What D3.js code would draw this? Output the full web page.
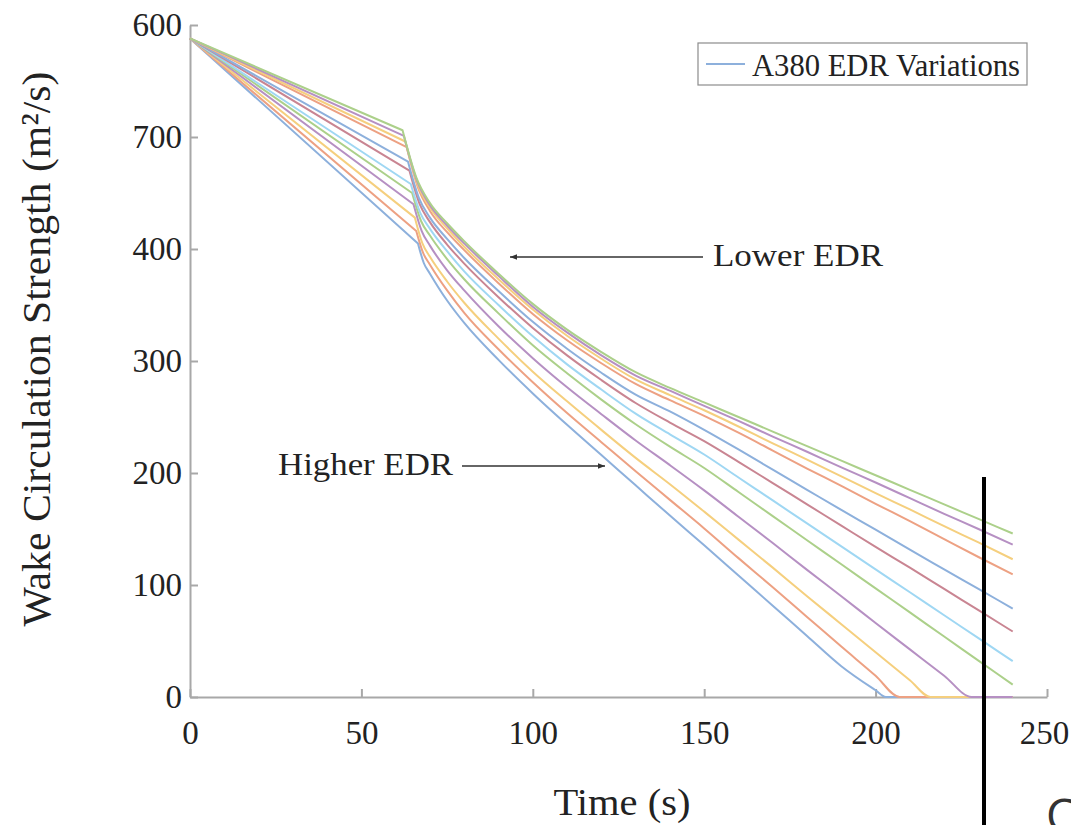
<!DOCTYPE html>
<html>
<head>
<meta charset="utf-8">
<script src="https://cdn.jsdelivr.net/npm/d3@7"></script>
<style>
  body { margin: 0; background: #fff; }
  svg { display: block; }
  .tick text { font-family: "Liberation Serif", serif; font-size: 33px; fill: #222; }
</style>
</head>
<body>
<div class="svg-container"></div>
<script>
// series 1 = highest EDR (bottom) ... series 12 = lowest EDR (top)
var lineColors = ["#8db0dc", "#eda183", "#f5cf7e", "#b690c3", "#acd08a", "#9fd7f3",
                  "#c98592", "#8db0dc", "#eda183", "#f5cf7e", "#b690c3", "#acd08a"];

var startTime = 0;
var startValue = 588;

var kinkTimes  = [66.5, 66, 65.6, 65.2, 64.8, 64.4, 64, 63.6, 63.2, 62.8, 62.4, 62];
var kinkValues = [405, 416, 428, 440, 450, 458, 470, 478, 491, 496, 501, 506];
var bendTimes  = [68.2, 68, 67.8, 67.6, 67.4, 67.2, 67, 66.8, 66.6, 66.4, 66.2, 66];
var bendValues = [387.5, 396.5, 405, 416, 425, 432, 440, 445.5, 454, 457.5, 461, 464];

var gridTimes = [70, 75, 80, 90, 100, 110, 120, 130, 140, 150, 160, 170, 180, 190, 200, 210, 220, 230, 240];
var gridValues = [
  [378, 354, 334, 301, 271, 243, 216, 189, 162, 135.5, 108.5, 81.5, 54.5, 27.5, 6, 0, 0, 0, 0],
  [386, 363, 343, 310.5, 281, 253.5, 227.5, 201.5, 176, 150.5, 124, 98, 71.5, 45, 19, 0, 0, 0, 0],
  [393, 371, 352, 320, 290.5, 264, 238.5, 213.5, 190, 165.5, 140.5, 115.5, 90, 65, 40, 15, 0, 0, 0],
  [403, 381, 363, 331, 302.5, 276.5, 252.5, 229, 207, 184.5, 161, 137.5, 113.5, 90, 66, 42.5, 19, 0, 0],
  [412, 391, 373, 342.5, 314, 289, 265.5, 243.5, 223.5, 204.5, 183, 161.5, 140, 118.5, 97, 75.5, 54, 32.5, 11],
  [418, 398, 380, 350, 322, 297, 274.5, 253, 234.5, 216.5, 196, 175.5, 155, 134.5, 114, 93.5, 73, 52.5, 32],
  [424, 404, 387, 357, 329.5, 305, 283, 262.5, 245, 228.5, 210, 191, 172, 153, 134, 115.5, 96.5, 77.5, 58.5],
  [428, 409, 392, 362.5, 335, 311, 289.5, 270, 255, 238.5, 221, 203, 185, 167, 149.5, 131.5, 114, 96.5, 79],
  [434, 415, 399, 369.5, 342, 318.5, 298, 279.5, 265, 251, 236, 220, 204, 188.5, 172.5, 157, 141, 125, 109.5],
  [437, 418.5, 402, 373, 346, 322.5, 302, 283.5, 269.5, 256, 241.5, 226.5, 212, 197, 182, 167.5, 152.5, 138, 123],
  [439, 421, 405, 376, 348.5, 325.5, 305, 287, 273.5, 260, 246.5, 232.5, 219, 205, 191.5, 177.5, 163.5, 150, 136],
  [441, 423, 407, 378, 351, 328, 308, 290, 276, 263, 250, 237, 224, 211, 198, 185, 172, 159, 146]
];
// time where a series reaches zero (null = stays above zero)
var zeroTimes = [203, 207, 216, 228, null, null, null, null, null, null, null, null];

var xTicks = [0, 50, 100, 150, 200, 250];
var yTicks = [0, 100, 200, 300, 400, 500, 600];
var yTickLabels = ["0", "100", "200", "300", "400", "700", "600"];

var width = 1071;
var height = 825;

var svg = d3.select(".svg-container").append("svg")
  .attr("width", width)
  .attr("height", height);

var x = d3.scaleLinear().domain([0, 250]).range([190, 1047]);
var y = d3.scaleLinear().domain([0, 600]).range([697, 25]);

// axes, MATLAB style ticks pointing inward
svg.append("g")
  .attr("transform", "translate(" + x(0) + ",0)")
  .call(d3.axisLeft(y).tickValues(yTicks)
    .tickFormat(function(d, i) { return yTickLabels[i]; })
    .tickSizeInner(-8).tickSizeOuter(0).tickPadding(8));

svg.append("g")
  .attr("transform", "translate(0," + y(0) + ")")
  .call(d3.axisBottom(x).tickValues(xTicks)
    .tickSizeInner(-8).tickSizeOuter(0).tickPadding(24));

svg.selectAll(".domain, .tick line")
  .attr("stroke", "#a8a8a8")
  .attr("stroke-width", 2);
svg.selectAll(".tick text").attr("font-family", null).attr("font-size", null);
// keep the last x label inside the frame
svg.selectAll(".tick text").filter(function(d) { return d === 250; }).attr("dx", "-3");

// straight decay up to the kink, then a smooth curve
var straight = d3.line()
  .x(function(d) { return x(d[0]); })
  .y(function(d) { return y(d[1]); });
var smooth = d3.line()
  .curve(d3.curveMonotoneX)
  .x(function(d) { return x(d[0]); })
  .y(function(d) { return y(d[1]); });

var series = gridValues.map(function(vals, i) {
  var pts = [[kinkTimes[i], kinkValues[i]], [bendTimes[i], bendValues[i]]];
  gridTimes.forEach(function(t, j) { pts.push([t, vals[j]]); });
  if (zeroTimes[i] != null) pts.push([zeroTimes[i], 0]);
  pts.sort(function(a, b) { return a[0] - b[0]; });
  return pts;
});

svg.append("g")
  .selectAll("path")
  .data(series)
  .enter().append("path")
  .attr("d", function(d) {
    return straight([[startTime, startValue], d[0]]) + smooth(d).replace(/^M/, "L");
  })
  .attr("fill", "none")
  .attr("stroke", function(d, i) { return lineColors[i]; })
  .attr("stroke-width", 2)
  .attr("stroke-linejoin", "round");

// axis titles
svg.append("text")
  .attr("transform", "translate(50,349) rotate(-90)")
  .attr("text-anchor", "middle")
  .attr("textLength", 555)
  .attr("lengthAdjust", "spacingAndGlyphs")
  .style("font-family", "Liberation Serif, serif")
  .style("font-size", "41px")
  .style("fill", "#222")
  .text("Wake Circulation Strength (m²/s)");

svg.append("text")
  .attr("x", 622)
  .attr("y", 815)
  .attr("text-anchor", "middle")
  .attr("textLength", 137)
  .attr("lengthAdjust", "spacingAndGlyphs")
  .style("font-family", "Liberation Serif, serif")
  .style("font-size", "38px")
  .style("fill", "#222")
  .text("Time (s)");

// legend
svg.append("rect")
  .attr("x", 698).attr("y", 43)
  .attr("width", 329).attr("height", 42)
  .attr("fill", "#fff")
  .attr("stroke", "#8c8c8c")
  .attr("stroke-width", 1.2);
svg.append("line")
  .attr("x1", 706).attr("x2", 745)
  .attr("y1", 64).attr("y2", 64)
  .attr("stroke", lineColors[0])
  .attr("stroke-width", 2);
svg.append("text")
  .attr("x", 752).attr("y", 76)
  .attr("textLength", 268)
  .attr("lengthAdjust", "spacingAndGlyphs")
  .style("font-family", "Liberation Serif, serif")
  .style("font-size", "31px")
  .style("fill", "#222")
  .text("A380 EDR Variations");

// annotations
svg.append("defs").append("marker")
  .attr("id", "arrow")
  .attr("viewBox", "0 0 10 10")
  .attr("refX", 10).attr("refY", 5)
  .attr("markerWidth", 7).attr("markerHeight", 7)
  .attr("markerUnits", "userSpaceOnUse")
  .attr("orient", "auto")
  .append("path")
  .attr("d", "M0,1 L10,5 L0,9 Z")
  .attr("fill", "#333");

svg.append("line")
  .attr("x1", 703).attr("y1", 257)
  .attr("x2", 510).attr("y2", 257)
  .attr("stroke", "#333").attr("stroke-width", 1.5)
  .attr("marker-end", "url(#arrow)");
svg.append("text")
  .attr("x", 713).attr("y", 266)
  .attr("textLength", 170)
  .attr("lengthAdjust", "spacingAndGlyphs")
  .style("font-family", "Liberation Serif, serif")
  .style("font-size", "32px")
  .style("fill", "#222")
  .text("Lower EDR");

svg.append("line")
  .attr("x1", 462).attr("y1", 466)
  .attr("x2", 605).attr("y2", 466)
  .attr("stroke", "#333").attr("stroke-width", 1.5)
  .attr("marker-end", "url(#arrow)");
svg.append("text")
  .attr("x", 278).attr("y", 475)
  .attr("textLength", 175)
  .attr("lengthAdjust", "spacingAndGlyphs")
  .style("font-family", "Liberation Serif, serif")
  .style("font-size", "32px")
  .style("fill", "#222")
  .text("Higher EDR");

// black bar and stray letter at the crop edge
svg.append("rect")
  .attr("x", 982).attr("y", 477)
  .attr("width", 4).attr("height", 348)
  .attr("fill", "#000");
svg.append("text")
  .attr("x", 1046).attr("y", 832)
  .style("font-family", "Open Sans, sans-serif")
  .style("font-size", "46px")
  .style("fill", "#333")
  .text("C");
</script>
</body>
</html>
